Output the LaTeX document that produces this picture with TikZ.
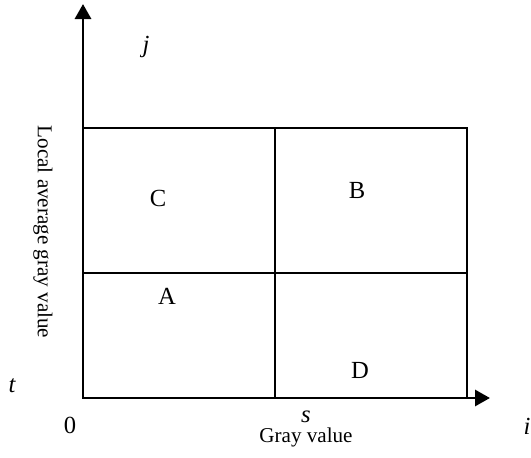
\documentclass[tikz,border=0pt]{standalone}
\usepackage{fontspec}
\setmainfont{Liberation Serif}
\usepackage{tikz}
\usetikzlibrary{arrows.meta,calc,positioning}
\tikzset{
    myaxis/.style={line width=1.7pt,draw=black,-{Triangle[length=3mm,width=3.2mm]}},
    mygrid/.style={line width=1.2pt,draw=black},
    mylabel/.style={font=\fontsize{14}{16}\selectfont},
    myvar/.style={font=\fontsize{14}{16}\selectfont\itshape},
    every node/.style={font=\fontsize{12}{14}\selectfont,inner sep=0pt}
}

\begin{document}
\begin{tikzpicture}
  \useasboundingbox (0,0) rectangle (10.62,9.14);

  %---------------- 坐标轴 ----------------
            \coordinate (O) at (1.66,1.18);
            \coordinate (Xend) at (9.80,1.18);
            \coordinate (Yend) at (1.66,9.06);
            \draw[myaxis] (O)--(Xend);
            \draw[myaxis] (O)--(Yend);

  %---------------- 分区 ----------------
            \coordinate (S) at (5.50,1.18);
            \coordinate (T) at (1.66,3.68);
            \coordinate (R) at (9.34,6.58);
            \draw[mygrid] (O) rectangle (R);
            \draw[mygrid] (S)--(S|-R);
            \draw[mygrid] (T)--(T-|R);

  %---------------- 标注 ----------------
            \node[myvar] (lj) at (2.92,8.20) {j};
            \node[myvar] (lt) at (0.24,1.42) {t};
            \node[mylabel] (l0) at (1.40,0.64) {0};
            \node[myvar] (ls) at (6.12,0.80) {s};
            \node (lgray) at (6.12,0.40) {Gray value};
            \node[myvar] (li) at (10.54,0.62) {i};
            \node[rotate=-90] (llocal) at (0.86,4.50) {Local average gray value};

            \node[mylabel] (lC) at (3.16,5.18) {C};
            \node[mylabel] (lB) at (7.14,5.34) {B};
            \node[mylabel] (lA) at (3.34,3.22) {A};
            \node[mylabel] (lD) at (7.20,1.74) {D};

        \end{tikzpicture}
\end{document}
